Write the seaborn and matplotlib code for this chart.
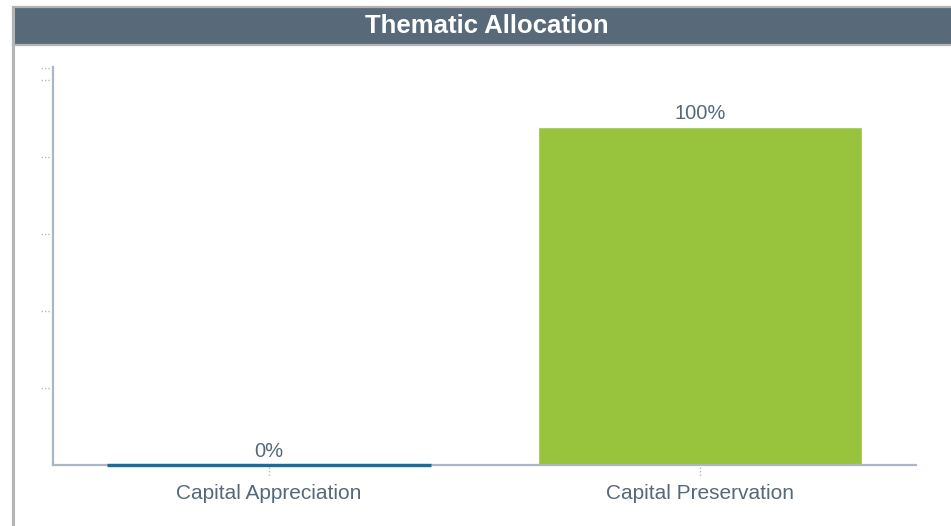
import numpy as np
import pandas as pd
import seaborn as sns
import matplotlib.pyplot as plt
from matplotlib.patches import Rectangle
from matplotlib.lines import Line2D

# chart data
categories = ['Capital Appreciation', 'Capital Preservation']
allocation = [0, 100]
bar_colors = ['#1a6d95', '#97c43c']

df = pd.DataFrame({'theme': categories, 'pct': allocation})

sns.set_theme(style='white')
plt.rcParams['font.family'] = ['Liberation Sans', 'DejaVu Sans']

fig = plt.figure(figsize=(9.51, 5.26), dpi=100)

# outer frame lines and header band
fig.add_artist(Line2D([12.5 / 951, 12.5 / 951], [0, 1 - 7 / 526], color='#b4b4b4', lw=2.2))
fig.add_artist(Rectangle((13 / 951, 1 - 45 / 526), 1, 38 / 526, facecolor='#586a79',
                         edgecolor='#b4b4b4', lw=1.6, transform=fig.transFigure))
fig.text(487 / 951, 1 - 26 / 526, 'Thematic Allocation', color='white', fontsize=18.5,
         fontweight='bold', ha='center', va='center')

ax = fig.add_axes([53 / 951, 1 - 465 / 526, 863 / 951, 398 / 526])
sns.barplot(data=df, x='theme', y='pct', hue='theme', palette=bar_colors,
            width=0.75, legend=False, saturation=1, ax=ax)

# zero-height bars drawn as a thin coloured line over the baseline
for p, c in zip(ax.patches, bar_colors):
    if p.get_height() == 0:
        p.set_edgecolor(c)
        p.set_linewidth(2.4)
        p.set_zorder(4)
        p.set_clip_on(False)

for cont in ax.containers:
    ax.bar_label(cont, labels=[f'{v:.0f}%' for v in cont.datavalues], padding=3,
                 fontsize=14.5, color='#56697a')

ax.set_xlim(-0.5, 1.5)
ax.set_ylim(0, 117.8)
ax.set_yticks([22.8, 45.6, 68.3, 91.1, 113.9, 117.4])
ax.set_yticklabels([])
ax.set_xlabel('')
ax.set_ylabel('')
ax.tick_params(axis='x', labelsize=15, labelcolor='#56697a', length=0, pad=14)
ax.tick_params(axis='y', length=0)

# dotted tick marks
trans_y = ax.get_yaxis_transform()
for t in ax.get_yticks():
    ax.plot([-0.014, -0.002], [t, t], transform=trans_y, color='#b8b8b8', lw=1,
            ls=(0, (1, 1.5)), clip_on=False)
trans_x = ax.get_xaxis_transform()
for t in ax.get_xticks():
    ax.plot([t, t], [-0.006, -0.03], transform=trans_x, color='#b8b8b8', lw=1,
            ls=(0, (1, 1.5)), clip_on=False)

for side in ['top', 'right']:
    ax.spines[side].set_visible(False)
for side in ['left', 'bottom']:
    ax.spines[side].set_color('#a9b7c4')
    ax.spines[side].set_linewidth(1.6)

plt.savefig('out.png', dpi=100)
